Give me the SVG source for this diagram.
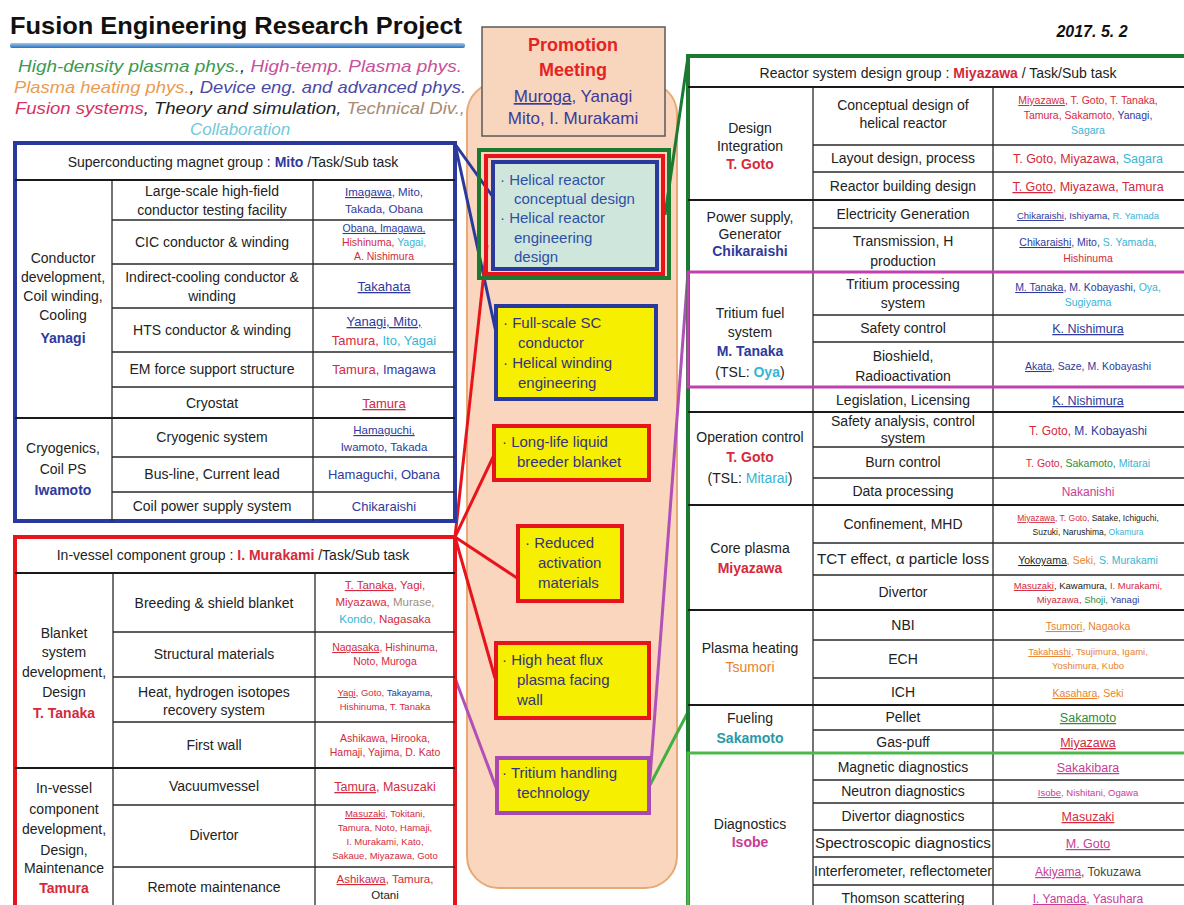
<svg xmlns="http://www.w3.org/2000/svg" width="1184" height="905" viewBox="0 0 1184 905">
<defs>
<style>
text{font-family:"Liberation Sans",Arial,sans-serif;}
.t{font-size:14px;fill:#222;text-anchor:middle}
.n{font-size:11.5px}
.n10{font-size:10.5px}
.n9{font-size:9.5px}
.f85{font-size:8.5px}
.f12{font-size:12px}
.f125{font-size:12.5px}
.f13{font-size:13px}
.bd{font-weight:bold}
.R{fill:#d42a3c}.B{fill:#2e3a9c}.C{fill:#38b4d4}.M{fill:#c83c96}.G{fill:#2e8c3c}.O{fill:#e8822c}.K{fill:#222}.T{fill:#a08c7c}
.u{text-decoration:underline}
.grid{stroke:#2a2a2a;stroke-width:1.3;fill:none}
.sep{stroke:#1a1a1a;stroke-width:2;fill:none}
.lg{font-size:17px;font-style:italic;text-anchor:middle}
.bx{font-size:15px}
.conn line{stroke-width:3;fill:none}
</style>
<linearGradient id="ul" x1="0" y1="0" x2="0" y2="1">
<stop offset="0" stop-color="#9cc8ec"/><stop offset="1" stop-color="#2a70c0"/>
</linearGradient>
</defs>
<rect width="1184" height="905" fill="#ffffff"/>

<g id="title">
<text x="10" y="34" font-family="Noto Sans, Liberation Sans, sans-serif" font-size="24" font-weight="bold" fill="#111" textLength="452" lengthAdjust="spacingAndGlyphs">Fusion Engineering Research Project</text>
<rect x="10" y="43" width="455" height="5" rx="2" fill="url(#ul)"/>
<text x="1092" y="37" font-size="16" font-weight="bold" font-style="italic" fill="#111" text-anchor="middle">2017. 5. 2</text>
</g>

<g id="legend">
<text class="lg" x="240" y="72" textLength="444" lengthAdjust="spacingAndGlyphs"><tspan fill="#3a9a50">High-density plasma phys.</tspan><tspan fill="#222">, </tspan><tspan fill="#c8509a">High-temp. Plasma phys.</tspan></text>
<text class="lg" x="240" y="93" textLength="452" lengthAdjust="spacingAndGlyphs"><tspan fill="#eb9a52">Plasma heating phys.</tspan><tspan fill="#222">, </tspan><tspan fill="#4a4aa6">Device eng. and advanced phys.</tspan></text>
<text class="lg" x="240" y="114" textLength="450" lengthAdjust="spacingAndGlyphs"><tspan fill="#d83060">Fusion systems</tspan><tspan fill="#222">, Theory and simulation, </tspan><tspan fill="#a88a70">Technical Div.,</tspan></text>
<text class="lg" x="240" y="135" fill="#74c8d8">Collaboration</text>
</g>

<g id="promotion-area">
<rect x="467" y="82" width="210" height="806" rx="32" fill="#f9d6bd" stroke="#e7a978" stroke-width="2"/>
</g>

<g id="connectors" class="conn">
<line x1="455" y1="144" x2="493" y2="197" stroke="#2a3a9c"/>
<line x1="455" y1="144" x2="497" y2="337" stroke="#2a3a9c"/>
<line x1="455" y1="537" x2="487" y2="245" stroke="#e8141c"/>
<line x1="455" y1="537" x2="495" y2="453" stroke="#e8141c"/>
<line x1="455" y1="537" x2="517" y2="578" stroke="#e8141c"/>
<line x1="455" y1="537" x2="495" y2="678" stroke="#e8141c"/>
<line x1="455" y1="678" x2="497" y2="790" stroke="#b050b8"/>
<line x1="688" y1="272" x2="650" y2="778" stroke="#b050b8"/>
<line x1="650" y1="785" x2="688" y2="712" stroke="#40b040"/>
<line x1="665" y1="215" x2="688" y2="57" stroke="#1a7a30"/>
</g>

<g id="promotion-meeting">
<rect x="482" y="27" width="183" height="109" fill="#f8d5bd" stroke="#5a5a5a" stroke-width="1.5"/>
<text x="573" y="51" font-size="18" font-weight="bold" fill="#e42424" text-anchor="middle">Promotion</text>
<text x="573" y="76" font-size="18" font-weight="bold" fill="#e42424" text-anchor="middle">Meeting</text>
<text x="573" y="102" font-size="17" fill="#3a3a9a" text-anchor="middle"><tspan class="u">Muroga</tspan>, Yanagi</text>
<text x="573" y="124" font-size="17" fill="#3a3a9a" text-anchor="middle">Mito, I. Murakami</text>
</g>

<g id="reactor-design-box">
<rect x="479" y="150" width="190" height="128" fill="none" stroke="#1a7a30" stroke-width="4"/>
<rect x="486" y="156" width="177" height="118" fill="none" stroke="#e8141c" stroke-width="4"/>
<rect x="493" y="162" width="164" height="107" fill="#cfe6dc" stroke="#2a3a9c" stroke-width="4"/>
<text class="bx" fill="#2e50a6"><tspan x="500" y="185">· Helical reactor</tspan><tspan x="514" y="204">conceptual design</tspan><tspan x="500" y="223">· Helical reactor</tspan><tspan x="514" y="243">engineering</tspan><tspan x="514" y="262">design</tspan></text>
</g>

<g id="sc-box">
<rect x="496" y="306" width="160" height="93" fill="#f7ef00" stroke="#2a3a9c" stroke-width="4"/>
<text class="bx" fill="#34347a"><tspan x="503" y="328">· Full-scale SC</tspan><tspan x="518" y="348">conductor</tspan><tspan x="503" y="368">· Helical winding</tspan><tspan x="518" y="388">engineering</tspan></text>
</g>

<g id="blanket-box">
<rect x="494" y="426" width="155" height="54" fill="#f7ef00" stroke="#e8141c" stroke-width="4"/>
<text class="bx" fill="#34347a"><tspan x="502" y="447">· Long-life liquid</tspan><tspan x="517" y="467">breeder blanket</tspan></text>
</g>

<g id="materials-box">
<rect x="518" y="526" width="104" height="75" fill="#f7ef00" stroke="#e8141c" stroke-width="4"/>
<text class="bx" fill="#34347a"><tspan x="525" y="548">· Reduced</tspan><tspan x="538" y="568">activation</tspan><tspan x="538" y="588">materials</tspan></text>
</g>

<g id="wall-box">
<rect x="496" y="643" width="153" height="75" fill="#f7ef00" stroke="#e8141c" stroke-width="4"/>
<text class="bx" fill="#34347a"><tspan x="502" y="665">· High heat flux</tspan><tspan x="517" y="685">plasma facing</tspan><tspan x="517" y="705">wall</tspan></text>
</g>

<g id="tritium-box">
<rect x="497" y="758" width="152" height="55" fill="#f7ef00" stroke="#a848b0" stroke-width="4"/>
<text class="bx" fill="#34347a"><tspan x="502" y="778">· Tritium handling</tspan><tspan x="517" y="798">technology</tspan></text>
</g>

<g id="sc-magnet-group">
<rect x="15" y="143" width="440" height="378" fill="#fff" stroke="#2a3a9c" stroke-width="4"/>
<path class="grid" d="M112 220H455M112 264H455M112 308H455M112 352H455M112 387H455M112 457H455M112 492H455M112 180V521M313 180V521"/>
<path class="sep" d="M15 180H455M15 418H455"/>
<text class="t" x="233" y="167">Superconducting magnet group : <tspan class="B bd">Mito</tspan> /Task/Sub task</text>
<text class="t"><tspan x="63" y="263">Conductor</tspan><tspan x="63" y="282">development,</tspan><tspan x="63" y="301">Coil winding,</tspan><tspan x="63" y="320">Cooling</tspan><tspan x="63" y="343" class="B bd">Yanagi</tspan></text>
<text class="t"><tspan x="63" y="453">Cryogenics,</tspan><tspan x="63" y="474">Coil PS</tspan><tspan x="63" y="495" class="B bd">Iwamoto</tspan></text>
<text class="t"><tspan x="212" y="196">Large-scale high-field</tspan><tspan x="212" y="215">conductor testing facility</tspan></text>
<text class="t" x="212" y="247">CIC conductor &amp; winding</text>
<text class="t"><tspan x="212" y="282">Indirect-cooling conductor &amp;</tspan><tspan x="212" y="301">winding</tspan></text>
<text class="t" x="212" y="335">HTS conductor &amp; winding</text>
<text class="t" x="212" y="374">EM force support structure</text>
<text class="t" x="212" y="408">Cryostat</text>
<text class="t" x="212" y="442">Cryogenic system</text>
<text class="t" x="212" y="479">Bus-line, Current lead</text>
<text class="t" x="212" y="511">Coil power supply system</text>
<text class="t n"><tspan x="384" y="196"><tspan class="B u">Imagawa</tspan><tspan class="B">, Mito,</tspan></tspan><tspan x="384" y="213" class="B">Takada, Obana</tspan></text>
<text class="t n10"><tspan x="384" y="232" class="B u">Obana, Imagawa,</tspan><tspan x="384" y="246"><tspan class="R">Hishinuma, </tspan><tspan class="C">Yagai,</tspan></tspan><tspan x="384" y="260" class="R">A. Nishimura</tspan></text>
<text class="t f13" x="384" y="291"><tspan class="B u">Takahata</tspan></text>
<text class="t f13"><tspan x="384" y="326" class="B u">Yanagi, Mito,</tspan><tspan x="384" y="345"><tspan class="R">Tamura, </tspan><tspan class="C">Ito, Yagai</tspan></tspan></text>
<text class="t f13" x="384" y="374"><tspan class="R">Tamura, </tspan><tspan class="B">Imagawa</tspan></text>
<text class="t f13" x="384" y="408"><tspan class="R u">Tamura</tspan></text>
<text class="t n"><tspan x="384" y="434" class="B u">Hamaguchi,</tspan><tspan x="384" y="451" class="B">Iwamoto, Takada</tspan></text>
<text class="t f13" x="384" y="479"><tspan class="B">Hamaguchi, Obana</tspan></text>
<text class="t f13" x="384" y="511"><tspan class="B">Chikaraishi</tspan></text>
</g>

<g id="in-vessel-group">
<rect x="15" y="537" width="440" height="380" fill="#fff" stroke="#e8141c" stroke-width="4"/>
<path class="grid" d="M113 632H455M113 677H455M113 722H455M113 805H455M113 867H455M113 573V905M315 573V905"/>
<path class="sep" d="M15 573H455M15 768H455"/>
<text class="t" x="233" y="560">In-vessel component group : <tspan class="R bd">I. Murakami</tspan> /Task/Sub task</text>
<text class="t"><tspan x="64" y="638">Blanket</tspan><tspan x="64" y="657">system</tspan><tspan x="64" y="677">development,</tspan><tspan x="64" y="697">Design</tspan><tspan x="64" y="718" class="R bd">T. Tanaka</tspan></text>
<text class="t"><tspan x="64" y="793">In-vessel</tspan><tspan x="64" y="814">component</tspan><tspan x="64" y="834">development,</tspan><tspan x="64" y="855">Design,</tspan><tspan x="64" y="873">Maintenance</tspan><tspan x="64" y="893" class="R bd">Tamura</tspan></text>
<text class="t" x="214" y="608">Breeding &amp; shield blanket</text>
<text class="t" x="214" y="659">Structural materials</text>
<text class="t"><tspan x="214" y="697">Heat, hydrogen isotopes</tspan><tspan x="214" y="715">recovery system</tspan></text>
<text class="t" x="214" y="750">First wall</text>
<text class="t" x="214" y="791">Vacuumvessel</text>
<text class="t" x="214" y="840">Divertor</text>
<text class="t" x="214" y="892">Remote maintenance</text>
<text class="t n"><tspan x="385" y="589"><tspan class="R u">T. Tanaka</tspan><tspan class="R">, Yagi,</tspan></tspan><tspan x="385" y="606"><tspan class="R">Miyazawa, </tspan><tspan class="T">Murase,</tspan></tspan><tspan x="385" y="623"><tspan class="C">Kondo, </tspan><tspan class="R">Nagasaka</tspan></tspan></text>
<text class="t n10"><tspan x="385" y="651"><tspan class="R u">Nagasaka</tspan><tspan class="R">, Hishinuma,</tspan></tspan><tspan x="385" y="665" class="R">Noto, Muroga</tspan></text>
<text class="t n9"><tspan x="385" y="696"><tspan class="R u">Yagi</tspan><tspan class="R">, Goto, </tspan><tspan class="B">Takayama,</tspan></tspan><tspan x="385" y="710" class="R">Hishinuma, T. Tanaka</tspan></text>
<text class="t n10"><tspan x="385" y="742" class="R">Ashikawa, Hirooka,</tspan><tspan x="385" y="756" class="R">Hamaji, Yajima, D. Kato</tspan></text>
<text class="t f125" x="385" y="791"><tspan class="R u">Tamura</tspan><tspan class="R">, Masuzaki</tspan></text>
<text class="t n9"><tspan x="385" y="817"><tspan class="R u">Masuzaki</tspan><tspan class="R">, Tokitani,</tspan></tspan><tspan x="385" y="831" class="R">Tamura, Noto, Hamaji,</tspan><tspan x="385" y="845" class="R">I. Murakami, Kato,</tspan><tspan x="385" y="859" class="R">Sakaue, Miyazawa, Goto</tspan></text>
<text class="t n"><tspan x="385" y="883"><tspan class="R u">Ashikawa</tspan><tspan class="R">, Tamura,</tspan></tspan><tspan x="385" y="899" class="K">Otani</tspan></text>
</g>

<g id="reactor-system-group">
<rect x="688" y="56" width="510" height="870" fill="#fff" stroke="#1a7a30" stroke-width="4"/>
<path class="grid" d="M813 145H1184M813 172H1184M813 228H1184M813 315H1184M813 342H1184M813 447H1184M813 478H1184M813 543H1184M813 575H1184M813 640H1184M813 678H1184M813 730H1184M813 780H1184M813 803H1184M813 830H1184M813 857H1184M813 885H1184M813 87V905M993 87V905"/>
<path class="sep" d="M688 87H1184M688 200H1184M688 412H1184M688 505H1184M688 610H1184M688 705H1184"/>
<text class="t" x="938" y="78">Reactor system design group : <tspan class="R bd">Miyazawa</tspan>  /  Task/Sub task</text>

<text class="t"><tspan x="750" y="133">Design</tspan><tspan x="750" y="151">Integration</tspan><tspan x="750" y="169" class="R bd">T. Goto</tspan></text>
<text class="t"><tspan x="750" y="222">Power supply,</tspan><tspan x="750" y="239">Generator</tspan><tspan x="750" y="256" class="B bd">Chikaraishi</tspan></text>
<text class="t"><tspan x="750" y="318">Tritium fuel</tspan><tspan x="750" y="337">system</tspan><tspan x="750" y="356" class="B bd">M. Tanaka</tspan><tspan x="750" y="377">(TSL: <tspan class="C bd">Oya</tspan>)</tspan></text>
<text class="t"><tspan x="750" y="442">Operation control</tspan><tspan x="750" y="462" class="R bd">T. Goto</tspan><tspan x="750" y="483">(TSL: <tspan class="C">Mitarai</tspan>)</tspan></text>
<text class="t"><tspan x="750" y="553">Core plasma</tspan><tspan x="750" y="573" class="R bd">Miyazawa</tspan></text>
<text class="t"><tspan x="750" y="653">Plasma heating</tspan><tspan x="750" y="672" class="O">Tsumori</tspan></text>
<text class="t"><tspan x="750" y="723">Fueling</tspan><tspan x="750" y="743" fill="#2a98a8" font-weight="bold">Sakamoto</tspan></text>
<text class="t"><tspan x="750" y="829">Diagnostics</tspan><tspan x="750" y="847" class="M bd">Isobe</tspan></text>

<text class="t"><tspan x="903" y="110">Conceptual design of</tspan><tspan x="903" y="128">helical reactor</tspan></text>
<text class="t" x="903" y="163">Layout design, process</text>
<text class="t" x="903" y="191">Reactor building design</text>
<text class="t" x="903" y="219">Electricity Generation</text>
<text class="t"><tspan x="903" y="246">Transmission, H</tspan><tspan x="903" y="266">production</tspan></text>
<text class="t"><tspan x="903" y="289">Tritium processing</tspan><tspan x="903" y="308">system</tspan></text>
<text class="t" x="903" y="333">Safety control</text>
<text class="t"><tspan x="903" y="361">Bioshield,</tspan><tspan x="903" y="381">Radioactivation</tspan></text>
<text class="t" x="903" y="405">Legislation, Licensing</text>
<text class="t"><tspan x="903" y="426">Safety analysis, control</tspan><tspan x="903" y="443">system</tspan></text>
<text class="t" x="903" y="467">Burn control</text>
<text class="t" x="903" y="496">Data processing</text>
<text class="t" x="903" y="529">Confinement, MHD</text>
<text class="t" x="903" y="564" textLength="172" lengthAdjust="spacingAndGlyphs">TCT effect, α particle loss</text>
<text class="t" x="903" y="597">Divertor</text>
<text class="t" x="903" y="630">NBI</text>
<text class="t" x="903" y="664">ECH</text>
<text class="t" x="903" y="697">ICH</text>
<text class="t" x="903" y="722">Pellet</text>
<text class="t" x="903" y="747">Gas-puff</text>
<text class="t" x="903" y="772">Magnetic diagnostics</text>
<text class="t" x="903" y="796">Neutron diagnostics</text>
<text class="t" x="903" y="821">Divertor diagnostics</text>
<text class="t" x="903" y="848" textLength="176" lengthAdjust="spacingAndGlyphs">Spectroscopic diagnostics</text>
<text class="t" x="903" y="876" textLength="178" lengthAdjust="spacingAndGlyphs">Interferometer, reflectometer</text>
<text class="t" x="903" y="903">Thomson scattering</text>

<text class="t n10"><tspan x="1088" y="104"><tspan class="R u">Miyazawa</tspan><tspan class="R">, T. Goto, T. Tanaka,</tspan></tspan><tspan x="1088" y="119"><tspan class="R">Tamura, Sakamoto, </tspan><tspan class="B">Yanagi,</tspan></tspan><tspan x="1088" y="134" class="C">Sagara</tspan></text>
<text class="t f125" x="1088" y="163"><tspan class="R">T. Goto, Miyazawa, </tspan><tspan class="C">Sagara</tspan></text>
<text class="t f125" x="1088" y="191"><tspan class="R u">T. Goto</tspan><tspan class="R">, Miyazawa, Tamura</tspan></text>
<text class="t n9" x="1088" y="219"><tspan class="B u">Chikaraishi</tspan><tspan class="B">, Ishiyama, </tspan><tspan class="C">R. Yamada</tspan></text>
<text class="t n10"><tspan x="1088" y="246"><tspan class="B u">Chikaraishi</tspan><tspan class="B">, Mito, </tspan><tspan class="C">S. Yamada,</tspan></tspan><tspan x="1088" y="262" class="R">Hishinuma</tspan></text>
<text class="t n10"><tspan x="1088" y="291"><tspan class="B u">M. Tanaka</tspan><tspan class="B">, M. Kobayashi, </tspan><tspan class="C">Oya,</tspan></tspan><tspan x="1088" y="306" class="C">Sugiyama</tspan></text>
<text class="t f125" x="1088" y="333"><tspan class="B u">K. Nishimura</tspan></text>
<text class="t n10" x="1088" y="370"><tspan class="B u">Akata</tspan><tspan class="B">, Saze, M. Kobayashi</tspan></text>
<text class="t f125" x="1088" y="405"><tspan class="B u">K. Nishimura</tspan></text>
<text class="t f12" x="1088" y="435"><tspan class="R">T. Goto, </tspan><tspan class="B">M. Kobayashi</tspan></text>
<text class="t n10" x="1088" y="467"><tspan class="R">T. Goto, </tspan><tspan class="G">Sakamoto, </tspan><tspan class="C">Mitarai</tspan></text>
<text class="t f12" x="1088" y="496"><tspan class="M">Nakanishi</tspan></text>
<text class="t f85"><tspan x="1088" y="521"><tspan class="R u">Miyazawa</tspan><tspan class="R">, T. Goto, </tspan><tspan class="K">Satake, Ichiguchi,</tspan></tspan><tspan x="1088" y="535"><tspan class="K">Suzuki, Narushima, </tspan><tspan class="C">Okamura</tspan></tspan></text>
<text class="t n10" x="1088" y="564"><tspan class="K u">Yokoyama</tspan><tspan class="O">, Seki, </tspan><tspan class="C">S. Murakami</tspan></text>
<text class="t n9"><tspan x="1088" y="589"><tspan class="R u">Masuzaki</tspan><tspan class="K">, Kawamura, </tspan><tspan class="R">I. Murakami,</tspan></tspan><tspan x="1088" y="603"><tspan class="R">Miyazawa, </tspan><tspan class="G">Shoji, </tspan><tspan class="B">Yanagi</tspan></tspan></text>
<text class="t n10" x="1088" y="630"><tspan class="O u">Tsumori</tspan><tspan class="O">, Nagaoka</tspan></text>
<text class="t n9"><tspan x="1088" y="655"><tspan class="O u">Takahashi</tspan><tspan class="O">, Tsujimura, Igami,</tspan></tspan><tspan x="1088" y="669" class="O">Yoshimura, Kubo</tspan></text>
<text class="t n10" x="1088" y="697"><tspan class="O u">Kasahara</tspan><tspan class="O">, Seki</tspan></text>
<text class="t f125" x="1088" y="722"><tspan class="G u">Sakamoto</tspan></text>
<text class="t f125" x="1088" y="747"><tspan class="R u">Miyazawa</tspan></text>
<text class="t f125" x="1088" y="772"><tspan class="M u">Sakakibara</tspan></text>
<text class="t n9" x="1088" y="796"><tspan class="M u">Isobe</tspan><tspan class="M">, Nishitani, Ogawa</tspan></text>
<text class="t f125" x="1088" y="821"><tspan class="R u">Masuzaki</tspan></text>
<text class="t f125" x="1088" y="848"><tspan class="M u">M. Goto</tspan></text>
<text class="t f12" x="1088" y="876"><tspan class="M u">Akiyama</tspan><tspan fill="#3a4a3a">, Tokuzawa</tspan></text>
<text class="t f12" x="1088" y="903"><tspan class="M u">I. Yamada</tspan><tspan class="M">, Yasuhara</tspan></text>

<rect x="688" y="272" width="510" height="115" fill="none" stroke="#c040b0" stroke-width="3"/>
<rect x="688" y="753" width="510" height="170" fill="none" stroke="#4cb84a" stroke-width="3"/>
</g>
</svg>
